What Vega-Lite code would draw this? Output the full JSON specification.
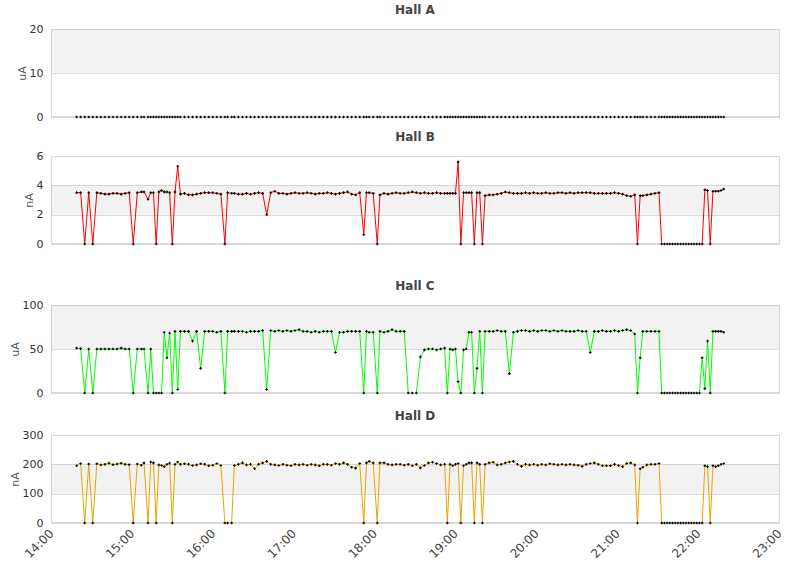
{
  "$schema": "https://vega.github.io/schema/vega-lite/v6.json",
  "description": "Beam current per hall, 14:00-23:00",
  "padding": {"left": 8, "top": 3, "right": 5, "bottom": 5},
  "data": {
    "values": [
      {"t": "2000-01-01T14:19", "A": 0, "B": 3.5, "C": 51, "D": 195},
      {"t": "2000-01-01T14:22", "A": 0, "B": 3.5, "C": 50.5, "D": 203},
      {"t": "2000-01-01T14:25", "A": 0, "B": 0, "C": 0, "D": 0},
      {"t": "2000-01-01T14:28", "A": 0, "B": 3.5, "C": 50, "D": 201},
      {"t": "2000-01-01T14:31", "A": 0, "B": 0, "C": 0, "D": 0},
      {"t": "2000-01-01T14:34", "A": 0, "B": 3.5, "C": 50, "D": 202},
      {"t": "2000-01-01T14:37", "A": 0, "B": 3.45, "C": 50, "D": 198},
      {"t": "2000-01-01T14:40", "A": 0, "B": 3.4, "C": 50, "D": 200},
      {"t": "2000-01-01T14:43", "A": 0, "B": 3.4, "C": 50, "D": 204},
      {"t": "2000-01-01T14:46", "A": 0, "B": 3.45, "C": 50, "D": 199},
      {"t": "2000-01-01T14:49", "A": 0, "B": 3.45, "C": 50, "D": 201},
      {"t": "2000-01-01T14:52", "A": 0, "B": 3.4, "C": 51, "D": 204},
      {"t": "2000-01-01T14:55", "A": 0, "B": 3.45, "C": 50, "D": 200},
      {"t": "2000-01-01T14:58", "A": 0, "B": 3.5, "C": 50, "D": 199},
      {"t": "2000-01-01T15:01", "A": 0, "B": 0, "C": 0, "D": 0},
      {"t": "2000-01-01T15:04", "A": 0, "B": 3.5, "C": 50, "D": 201},
      {"t": "2000-01-01T15:07", "A": 0, "B": 3.55, "C": 50, "D": 197},
      {"t": "2000-01-01T15:09", "A": 0, "B": 3.55, "C": 50, "D": 205},
      {"t": "2000-01-01T15:12", "A": 0, "B": 3.05, "C": 0, "D": 0},
      {"t": "2000-01-01T15:14", "A": 0, "B": 3.5, "C": 50, "D": 208},
      {"t": "2000-01-01T15:16", "A": 0, "B": 3.5, "C": 0, "D": 205},
      {"t": "2000-01-01T15:18", "A": 0, "B": 0, "C": 0, "D": 0},
      {"t": "2000-01-01T15:20", "A": 0, "B": 3.55, "C": 0, "D": 198},
      {"t": "2000-01-01T15:22", "A": 0, "B": 3.65, "C": 0, "D": 196},
      {"t": "2000-01-01T15:24", "A": 0, "B": 3.55, "C": 69, "D": 192},
      {"t": "2000-01-01T15:26", "A": 0, "B": 3.55, "C": 40, "D": 200},
      {"t": "2000-01-01T15:28", "A": 0, "B": 3.5, "C": 68, "D": 204},
      {"t": "2000-01-01T15:30", "A": 0, "B": 0, "C": 0, "D": 0},
      {"t": "2000-01-01T15:32", "A": 0, "B": 3.55, "C": 70, "D": 200},
      {"t": "2000-01-01T15:34", "A": 0, "B": 5.3, "C": 4, "D": 208},
      {"t": "2000-01-01T15:36", "A": 0, "B": 3.4, "C": 70, "D": 200},
      {"t": "2000-01-01T15:39", "A": 0, "B": 3.45, "C": 70, "D": 202},
      {"t": "2000-01-01T15:42", "A": 0, "B": 3.35, "C": 70, "D": 200},
      {"t": "2000-01-01T15:45", "A": 0, "B": 3.35, "C": 59, "D": 196},
      {"t": "2000-01-01T15:48", "A": 0, "B": 3.4, "C": 70, "D": 198},
      {"t": "2000-01-01T15:51", "A": 0, "B": 3.45, "C": 28, "D": 202},
      {"t": "2000-01-01T15:54", "A": 0, "B": 3.5, "C": 70, "D": 200},
      {"t": "2000-01-01T15:57", "A": 0, "B": 3.5, "C": 70, "D": 195},
      {"t": "2000-01-01T16:00", "A": 0, "B": 3.5, "C": 70, "D": 197},
      {"t": "2000-01-01T16:03", "A": 0, "B": 3.45, "C": 69, "D": 203},
      {"t": "2000-01-01T16:06", "A": 0, "B": 3.4, "C": 70, "D": 196},
      {"t": "2000-01-01T16:09", "A": 0, "B": 0, "C": 0, "D": 0},
      {"t": "2000-01-01T16:11", "A": 0, "B": 3.5, "C": 70, "D": 0},
      {"t": "2000-01-01T16:14", "A": 0, "B": 3.45, "C": 70, "D": 0},
      {"t": "2000-01-01T16:16", "A": 0, "B": 3.45, "C": 70, "D": 196},
      {"t": "2000-01-01T16:19", "A": 0, "B": 3.4, "C": 70, "D": 200},
      {"t": "2000-01-01T16:22", "A": 0, "B": 3.4, "C": 70, "D": 205},
      {"t": "2000-01-01T16:25", "A": 0, "B": 3.45, "C": 69, "D": 198},
      {"t": "2000-01-01T16:28", "A": 0, "B": 3.4, "C": 70, "D": 200},
      {"t": "2000-01-01T16:31", "A": 0, "B": 3.45, "C": 70, "D": 185},
      {"t": "2000-01-01T16:34", "A": 0, "B": 3.5, "C": 70, "D": 200},
      {"t": "2000-01-01T16:37", "A": 0, "B": 3.45, "C": 71, "D": 205},
      {"t": "2000-01-01T16:40", "A": 0, "B": 2.0, "C": 4, "D": 210},
      {"t": "2000-01-01T16:43", "A": 0, "B": 3.5, "C": 71, "D": 200},
      {"t": "2000-01-01T16:46", "A": 0, "B": 3.6, "C": 70, "D": 198},
      {"t": "2000-01-01T16:49", "A": 0, "B": 3.45, "C": 71, "D": 196},
      {"t": "2000-01-01T16:52", "A": 0, "B": 3.45, "C": 70, "D": 200},
      {"t": "2000-01-01T16:55", "A": 0, "B": 3.4, "C": 71, "D": 197},
      {"t": "2000-01-01T16:58", "A": 0, "B": 3.45, "C": 70, "D": 195},
      {"t": "2000-01-01T17:01", "A": 0, "B": 3.5, "C": 71, "D": 200},
      {"t": "2000-01-01T17:04", "A": 0, "B": 3.45, "C": 72, "D": 198},
      {"t": "2000-01-01T17:07", "A": 0, "B": 3.45, "C": 70, "D": 200},
      {"t": "2000-01-01T17:10", "A": 0, "B": 3.5, "C": 70, "D": 197},
      {"t": "2000-01-01T17:13", "A": 0, "B": 3.45, "C": 69, "D": 200},
      {"t": "2000-01-01T17:16", "A": 0, "B": 3.4, "C": 70, "D": 198},
      {"t": "2000-01-01T17:19", "A": 0, "B": 3.45, "C": 69, "D": 195},
      {"t": "2000-01-01T17:22", "A": 0, "B": 3.45, "C": 70, "D": 200},
      {"t": "2000-01-01T17:25", "A": 0, "B": 3.5, "C": 70, "D": 200},
      {"t": "2000-01-01T17:28", "A": 0, "B": 3.45, "C": 70, "D": 197},
      {"t": "2000-01-01T17:31", "A": 0, "B": 3.4, "C": 46, "D": 203},
      {"t": "2000-01-01T17:34", "A": 0, "B": 3.45, "C": 69, "D": 200},
      {"t": "2000-01-01T17:37", "A": 0, "B": 3.5, "C": 69, "D": 205},
      {"t": "2000-01-01T17:40", "A": 0, "B": 3.55, "C": 70, "D": 200},
      {"t": "2000-01-01T17:43", "A": 0, "B": 3.4, "C": 70, "D": 190},
      {"t": "2000-01-01T17:46", "A": 0, "B": 3.35, "C": 70, "D": 187},
      {"t": "2000-01-01T17:49", "A": 0, "B": 3.5, "C": 70, "D": 203},
      {"t": "2000-01-01T17:52", "A": 0, "B": 0.63, "C": 0, "D": 0},
      {"t": "2000-01-01T17:54", "A": 0, "B": 3.5, "C": 70, "D": 205},
      {"t": "2000-01-01T17:56", "A": 0, "B": 3.5, "C": 69, "D": 210},
      {"t": "2000-01-01T17:59", "A": 0, "B": 3.45, "C": 69, "D": 205},
      {"t": "2000-01-01T18:02", "A": 0, "B": 0, "C": 0, "D": 0},
      {"t": "2000-01-01T18:04", "A": 0, "B": 3.35, "C": 70, "D": 205},
      {"t": "2000-01-01T18:07", "A": 0, "B": 3.45, "C": 69, "D": 205},
      {"t": "2000-01-01T18:10", "A": 0, "B": 3.4, "C": 70, "D": 200},
      {"t": "2000-01-01T18:13", "A": 0, "B": 3.45, "C": 72, "D": 198},
      {"t": "2000-01-01T18:16", "A": 0, "B": 3.5, "C": 70, "D": 200},
      {"t": "2000-01-01T18:19", "A": 0, "B": 3.45, "C": 70, "D": 200},
      {"t": "2000-01-01T18:22", "A": 0, "B": 3.45, "C": 70, "D": 197},
      {"t": "2000-01-01T18:25", "A": 0, "B": 3.5, "C": 0, "D": 200},
      {"t": "2000-01-01T18:28", "A": 0, "B": 3.55, "C": 0, "D": 195},
      {"t": "2000-01-01T18:31", "A": 0, "B": 3.5, "C": 0, "D": 200},
      {"t": "2000-01-01T18:34", "A": 0, "B": 3.45, "C": 41, "D": 188},
      {"t": "2000-01-01T18:37", "A": 0, "B": 3.5, "C": 49, "D": 196},
      {"t": "2000-01-01T18:40", "A": 0, "B": 3.45, "C": 50, "D": 205},
      {"t": "2000-01-01T18:43", "A": 0, "B": 3.45, "C": 50, "D": 207},
      {"t": "2000-01-01T18:46", "A": 0, "B": 3.5, "C": 49, "D": 203},
      {"t": "2000-01-01T18:49", "A": 0, "B": 3.45, "C": 50, "D": 198},
      {"t": "2000-01-01T18:52", "A": 0, "B": 3.45, "C": 51, "D": 200},
      {"t": "2000-01-01T18:54", "A": 0, "B": 3.45, "C": 0, "D": 0},
      {"t": "2000-01-01T18:56", "A": 0, "B": 3.45, "C": 50, "D": 200},
      {"t": "2000-01-01T18:58", "A": 0, "B": 3.45, "C": 49, "D": 195},
      {"t": "2000-01-01T19:00", "A": 0, "B": 3.45, "C": 50, "D": 200},
      {"t": "2000-01-01T19:02", "A": 0, "B": 5.6, "C": 13, "D": 203},
      {"t": "2000-01-01T19:04", "A": 0, "B": 0, "C": 0, "D": 0},
      {"t": "2000-01-01T19:06", "A": 0, "B": 3.5, "C": 49, "D": 195},
      {"t": "2000-01-01T19:08", "A": 0, "B": 3.5, "C": 50, "D": 200},
      {"t": "2000-01-01T19:10", "A": 0, "B": 3.5, "C": 69, "D": 205},
      {"t": "2000-01-01T19:12", "A": 0, "B": 3.5, "C": 69, "D": 205},
      {"t": "2000-01-01T19:14", "A": 0, "B": 0, "C": 0, "D": 0},
      {"t": "2000-01-01T19:16", "A": 0, "B": 3.5, "C": 28, "D": 205},
      {"t": "2000-01-01T19:18", "A": 0, "B": 3.5, "C": 70, "D": 200},
      {"t": "2000-01-01T19:20", "A": 0, "B": 0, "C": 0, "D": 0},
      {"t": "2000-01-01T19:22", "A": 0, "B": 3.3, "C": 70, "D": 200},
      {"t": "2000-01-01T19:25", "A": 0, "B": 3.35, "C": 70, "D": 205},
      {"t": "2000-01-01T19:28", "A": 0, "B": 3.35, "C": 70, "D": 207},
      {"t": "2000-01-01T19:31", "A": 0, "B": 3.4, "C": 71, "D": 198},
      {"t": "2000-01-01T19:34", "A": 0, "B": 3.45, "C": 70, "D": 200},
      {"t": "2000-01-01T19:37", "A": 0, "B": 3.55, "C": 70, "D": 205},
      {"t": "2000-01-01T19:40", "A": 0, "B": 3.5, "C": 22, "D": 208},
      {"t": "2000-01-01T19:43", "A": 0, "B": 3.45, "C": 69, "D": 210},
      {"t": "2000-01-01T19:46", "A": 0, "B": 3.45, "C": 70, "D": 200},
      {"t": "2000-01-01T19:49", "A": 0, "B": 3.45, "C": 71, "D": 193},
      {"t": "2000-01-01T19:52", "A": 0, "B": 3.5, "C": 71, "D": 200},
      {"t": "2000-01-01T19:55", "A": 0, "B": 3.45, "C": 70, "D": 198},
      {"t": "2000-01-01T19:58", "A": 0, "B": 3.5, "C": 71, "D": 200},
      {"t": "2000-01-01T20:01", "A": 0, "B": 3.45, "C": 70, "D": 197},
      {"t": "2000-01-01T20:04", "A": 0, "B": 3.45, "C": 71, "D": 200},
      {"t": "2000-01-01T20:07", "A": 0, "B": 3.5, "C": 71, "D": 198},
      {"t": "2000-01-01T20:10", "A": 0, "B": 3.45, "C": 70, "D": 202},
      {"t": "2000-01-01T20:13", "A": 0, "B": 3.45, "C": 71, "D": 200},
      {"t": "2000-01-01T20:16", "A": 0, "B": 3.5, "C": 70, "D": 198},
      {"t": "2000-01-01T20:19", "A": 0, "B": 3.5, "C": 71, "D": 200},
      {"t": "2000-01-01T20:22", "A": 0, "B": 3.45, "C": 70, "D": 198},
      {"t": "2000-01-01T20:25", "A": 0, "B": 3.5, "C": 70, "D": 200},
      {"t": "2000-01-01T20:28", "A": 0, "B": 3.45, "C": 70, "D": 198},
      {"t": "2000-01-01T20:31", "A": 0, "B": 3.5, "C": 71, "D": 197},
      {"t": "2000-01-01T20:34", "A": 0, "B": 3.5, "C": 70, "D": 193},
      {"t": "2000-01-01T20:37", "A": 0, "B": 3.5, "C": 70, "D": 200},
      {"t": "2000-01-01T20:40", "A": 0, "B": 3.5, "C": 46, "D": 203},
      {"t": "2000-01-01T20:43", "A": 0, "B": 3.45, "C": 70, "D": 205},
      {"t": "2000-01-01T20:46", "A": 0, "B": 3.45, "C": 70, "D": 200},
      {"t": "2000-01-01T20:49", "A": 0, "B": 3.45, "C": 71, "D": 195},
      {"t": "2000-01-01T20:52", "A": 0, "B": 3.45, "C": 70, "D": 195},
      {"t": "2000-01-01T20:55", "A": 0, "B": 3.45, "C": 70, "D": 195},
      {"t": "2000-01-01T20:58", "A": 0, "B": 3.5, "C": 71, "D": 200},
      {"t": "2000-01-01T21:01", "A": 0, "B": 3.45, "C": 70, "D": 196},
      {"t": "2000-01-01T21:04", "A": 0, "B": 3.4, "C": 71, "D": 192},
      {"t": "2000-01-01T21:07", "A": 0, "B": 3.3, "C": 72, "D": 203},
      {"t": "2000-01-01T21:10", "A": 0, "B": 3.25, "C": 71, "D": 205},
      {"t": "2000-01-01T21:13", "A": 0, "B": 3.35, "C": 67, "D": 198},
      {"t": "2000-01-01T21:15", "A": 0, "B": 0, "C": 0, "D": 0},
      {"t": "2000-01-01T21:17", "A": 0, "B": 3.3, "C": 40, "D": 185},
      {"t": "2000-01-01T21:19", "A": 0, "B": 3.3, "C": 70, "D": 190},
      {"t": "2000-01-01T21:22", "A": 0, "B": 3.35, "C": 70, "D": 198},
      {"t": "2000-01-01T21:25", "A": 0, "B": 3.4, "C": 70, "D": 200},
      {"t": "2000-01-01T21:28", "A": 0, "B": 3.45, "C": 70, "D": 200},
      {"t": "2000-01-01T21:31", "A": 0, "B": 3.5, "C": 70, "D": 203},
      {"t": "2000-01-01T21:33", "A": 0, "B": 0, "C": 0, "D": 0},
      {"t": "2000-01-01T21:35", "A": 0, "B": 0, "C": 0, "D": 0},
      {"t": "2000-01-01T21:37", "A": 0, "B": 0, "C": 0, "D": 0},
      {"t": "2000-01-01T21:39", "A": 0, "B": 0, "C": 0, "D": 0},
      {"t": "2000-01-01T21:41", "A": 0, "B": 0, "C": 0, "D": 0},
      {"t": "2000-01-01T21:43", "A": 0, "B": 0, "C": 0, "D": 0},
      {"t": "2000-01-01T21:45", "A": 0, "B": 0, "C": 0, "D": 0},
      {"t": "2000-01-01T21:47", "A": 0, "B": 0, "C": 0, "D": 0},
      {"t": "2000-01-01T21:49", "A": 0, "B": 0, "C": 0, "D": 0},
      {"t": "2000-01-01T21:51", "A": 0, "B": 0, "C": 0, "D": 0},
      {"t": "2000-01-01T21:53", "A": 0, "B": 0, "C": 0, "D": 0},
      {"t": "2000-01-01T21:55", "A": 0, "B": 0, "C": 0, "D": 0},
      {"t": "2000-01-01T21:57", "A": 0, "B": 0, "C": 0, "D": 0},
      {"t": "2000-01-01T21:59", "A": 0, "B": 0, "C": 0, "D": 0},
      {"t": "2000-01-01T22:01", "A": 0, "B": 0, "C": 0, "D": 0},
      {"t": "2000-01-01T22:03", "A": 0, "B": 0, "C": 40, "D": 0},
      {"t": "2000-01-01T22:05", "A": 0, "B": 3.7, "C": 5, "D": 195},
      {"t": "2000-01-01T22:07", "A": 0, "B": 3.65, "C": 59, "D": 192},
      {"t": "2000-01-01T22:09", "A": 0, "B": 0, "C": 0, "D": 0},
      {"t": "2000-01-01T22:11", "A": 0, "B": 3.6, "C": 70, "D": 195},
      {"t": "2000-01-01T22:13", "A": 0, "B": 3.6, "C": 70, "D": 192},
      {"t": "2000-01-01T22:15", "A": 0, "B": 3.6, "C": 70, "D": 195},
      {"t": "2000-01-01T22:17", "A": 0, "B": 3.65, "C": 70, "D": 200},
      {"t": "2000-01-01T22:19", "A": 0, "B": 3.75, "C": 69, "D": 203}
    ]
  },
  "spacing": 29,
  "vconcat": [
    {
      "spacing": 7,
      "vconcat": [
        {
          "title": "Hall A",
          "width": 728,
          "height": 88,
          "encoding": {
            "x": {"field": "t", "type": "temporal", "axis": null,
              "scale": {"domain": [{"year": 2000, "month": 1, "date": 1, "hours": 14}, {"year": 2000, "month": 1, "date": 1, "hours": 23}]}},
            "y": {"field": "A", "type": "quantitative", "scale": {"domain": [0, 20], "nice": false},
              "axis": {"title": "uA", "values": [0, 10, 20]}}
          },
          "layer": [
            {"data": {"values": [{"lo": 10, "hi": 20}]},
              "mark": {"type": "rect", "color": "#000000", "opacity": 0.05},
              "encoding": {"x": {"value": 0}, "x2": {"value": "width"}, "y": {"field": "lo", "type": "quantitative"}, "y2": {"field": "hi"}}},
            {"mark": {"type": "line", "color": "#333333", "strokeWidth": 1}},
            {"mark": {"type": "rule", "color": "#d8d8d8", "strokeWidth": 1},
              "encoding": {"x": {"value": 0}, "x2": {"value": "width"}, "y": {"datum": 0, "type": "quantitative"}}},
            {"mark": {"type": "point", "shape": "cross", "size": 7, "filled": true, "color": "#000000", "opacity": 1}}
          ]
        },
        {
          "title": "Hall B",
          "width": 728,
          "height": 88,
          "encoding": {
            "x": {"field": "t", "type": "temporal", "axis": null,
              "scale": {"domain": [{"year": 2000, "month": 1, "date": 1, "hours": 14}, {"year": 2000, "month": 1, "date": 1, "hours": 23}]}},
            "y": {"field": "B", "type": "quantitative", "scale": {"domain": [0, 6], "nice": false},
              "axis": {"title": "nA", "values": [0, 2, 4, 6]}}
          },
          "layer": [
            {"data": {"values": [{"lo": 2, "hi": 4}]},
              "mark": {"type": "rect", "color": "#000000", "opacity": 0.05},
              "encoding": {"x": {"value": 0}, "x2": {"value": "width"}, "y": {"field": "lo", "type": "quantitative"}, "y2": {"field": "hi"}}},
            {"mark": {"type": "line", "color": "#ff0000", "strokeWidth": 1}},
            {"mark": {"type": "rule", "color": "#d8d8d8", "strokeWidth": 1},
              "encoding": {"x": {"value": 0}, "x2": {"value": "width"}, "y": {"datum": 0, "type": "quantitative"}}},
            {"mark": {"type": "point", "shape": "cross", "size": 7, "filled": true, "color": "#000000", "opacity": 1}}
          ]
        }
      ]
    },
    {
      "spacing": 10,
      "vconcat": [
        {
          "title": "Hall C",
          "width": 728,
          "height": 88,
          "encoding": {
            "x": {"field": "t", "type": "temporal", "axis": null,
              "scale": {"domain": [{"year": 2000, "month": 1, "date": 1, "hours": 14}, {"year": 2000, "month": 1, "date": 1, "hours": 23}]}},
            "y": {"field": "C", "type": "quantitative", "scale": {"domain": [0, 100], "nice": false},
              "axis": {"title": "uA", "values": [0, 50, 100]}}
          },
          "layer": [
            {"data": {"values": [{"lo": 50, "hi": 100}]},
              "mark": {"type": "rect", "color": "#000000", "opacity": 0.05},
              "encoding": {"x": {"value": 0}, "x2": {"value": "width"}, "y": {"field": "lo", "type": "quantitative"}, "y2": {"field": "hi"}}},
            {"mark": {"type": "line", "color": "#00ff00", "strokeWidth": 1}},
            {"mark": {"type": "rule", "color": "#d8d8d8", "strokeWidth": 1},
              "encoding": {"x": {"value": 0}, "x2": {"value": "width"}, "y": {"datum": 0, "type": "quantitative"}}},
            {"mark": {"type": "point", "shape": "cross", "size": 7, "filled": true, "color": "#000000", "opacity": 1}}
          ]
        },
        {
          "title": "Hall D",
          "width": 728,
          "height": 88,
          "encoding": {
            "x": {"field": "t", "type": "temporal",
              "scale": {"domain": [{"year": 2000, "month": 1, "date": 1, "hours": 14}, {"year": 2000, "month": 1, "date": 1, "hours": 23}]},
              "axis": {"title": null, "format": "%H:%M",
                "values": [
                  {"year": 2000, "month": 1, "date": 1, "hours": 14}, {"year": 2000, "month": 1, "date": 1, "hours": 15},
                  {"year": 2000, "month": 1, "date": 1, "hours": 16}, {"year": 2000, "month": 1, "date": 1, "hours": 17},
                  {"year": 2000, "month": 1, "date": 1, "hours": 18}, {"year": 2000, "month": 1, "date": 1, "hours": 19},
                  {"year": 2000, "month": 1, "date": 1, "hours": 20}, {"year": 2000, "month": 1, "date": 1, "hours": 21},
                  {"year": 2000, "month": 1, "date": 1, "hours": 22}, {"year": 2000, "month": 1, "date": 1, "hours": 23}
                ]}},
            "y": {"field": "D", "type": "quantitative", "scale": {"domain": [0, 300], "nice": false},
              "axis": {"title": "nA", "values": [0, 100, 200, 300]}}
          },
          "layer": [
            {"data": {"values": [{"lo": 100, "hi": 200}]},
              "mark": {"type": "rect", "color": "#000000", "opacity": 0.05},
              "encoding": {"x": {"value": 0}, "x2": {"value": "width"}, "y": {"field": "lo", "type": "quantitative"}, "y2": {"field": "hi"}}},
            {"mark": {"type": "line", "color": "#eaa300", "strokeWidth": 1}},
            {"mark": {"type": "rule", "color": "#d8d8d8", "strokeWidth": 1},
              "encoding": {"x": {"value": 0}, "x2": {"value": "width"}, "y": {"datum": 0, "type": "quantitative"}}},
            {"mark": {"type": "point", "shape": "cross", "size": 7, "filled": true, "color": "#000000", "opacity": 1}}
          ]
        }
      ]
    }
  ],
  "config": {
    "font": "DejaVu Sans",
    "view": {"stroke": "#d8d8d8"},
    "title": {"font": "DejaVu Sans", "fontSize": 12, "fontWeight": "bold", "color": "#444444", "offset": 6},
    "axis": {"domain": false, "ticks": false, "labelFont": "DejaVu Sans", "labelColor": "#333333"},
    "axisY": {
      "grid": true, "gridColor": "#dcdcdc", "labelFontSize": 11, "labelPadding": 8,
      "titleFont": "DejaVu Sans", "titleFontSize": 11, "titleFontWeight": "normal", "titleColor": "#555555", "titlePadding": 2
    },
    "axisX": {
      "grid": false, "labelFontSize": 12, "labelAngle": -45, "labelAlign": "right", "labelBaseline": "middle",
      "labelPadding": 8, "labelOverlap": false, "labelFlush": false, "labelColor": "#444444"
    }
  }
}
